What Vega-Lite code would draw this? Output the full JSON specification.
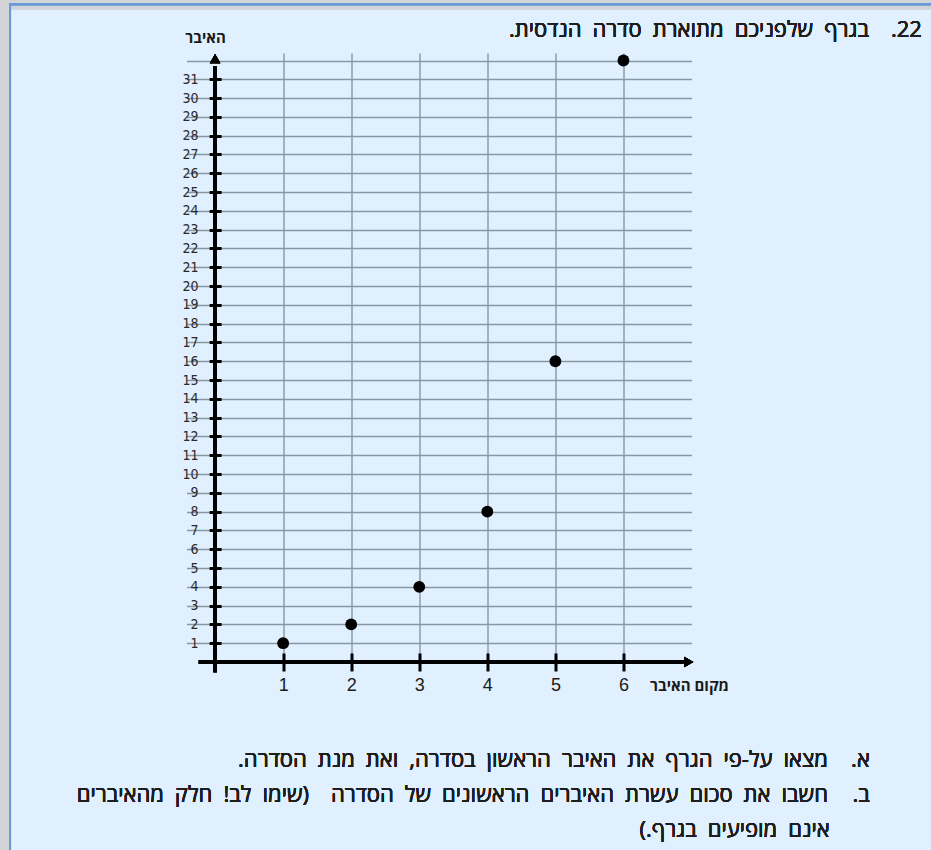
{
  "$schema": "https://vega.github.io/schema/vega-lite/v6.json",
  "width": 505,
  "height": 609,
  "autosize": {"type": "none"},
  "padding": {"left": 186.5, "top": 53, "right": 239.5, "bottom": 188},
  "background": "#e1f0fe",
  "config": {"view": {"stroke": null}},
  "data": {"values": [
    {"n": 1, "a": 1},
    {"n": 2, "a": 2},
    {"n": 3, "a": 4},
    {"n": 4, "a": 8},
    {"n": 5, "a": 16},
    {"n": 6, "a": 32}
  ]},
  "layer": [
    {
      "mark": {"type": "rect", "fill": null, "stroke": "#d2d4d7", "strokeWidth": 18},
      "encoding": {
        "x": {"datum": -3.16, "type": "quantitative"},
        "x2": {"datum": 12},
        "y": {"datum": 35.21, "type": "quantitative"},
        "y2": {"datum": -12}
      }
    },
    {
      "mark": {"type": "rect", "fill": null, "stroke": "#6b9ad6", "strokeWidth": 2},
      "encoding": {
        "x": {"datum": -3.013, "type": "quantitative"},
        "x2": {"datum": 12},
        "y": {"datum": 35.0, "type": "quantitative"},
        "y2": {"datum": -12}
      }
    },
    {
      "mark": {"type": "rule", "color": "black", "strokeWidth": 3.5},
      "encoding": {
        "x": {"datum": 0, "type": "quantitative"},
        "y": {"datum": -0.55, "type": "quantitative"},
        "y2": {"datum": 31.7}
      }
    },
    {
      "mark": {"type": "rule", "color": "black", "strokeWidth": 3.5},
      "encoding": {
        "y": {"datum": 0, "type": "quantitative"},
        "x": {"datum": -0.24, "type": "quantitative"},
        "x2": {"datum": 6.9}
      }
    },
    {
      "mark": {"type": "point", "shape": "triangle-up", "filled": true, "color": "black", "opacity": 1, "size": 110},
      "encoding": {
        "x": {"datum": 0, "type": "quantitative"},
        "y": {"datum": 32.1, "type": "quantitative"}
      }
    },
    {
      "mark": {"type": "point", "shape": "triangle-right", "filled": true, "color": "black", "opacity": 1, "size": 110},
      "encoding": {
        "x": {"datum": 6.96, "type": "quantitative"},
        "y": {"datum": 0, "type": "quantitative"}
      }
    },
    {
      "mark": {"type": "point", "filled": true, "color": "black", "opacity": 1, "size": 140},
      "encoding": {
        "x": {
          "field": "n", "type": "quantitative",
          "scale": {"domain": [-0.42, 7], "nice": false, "zero": false},
          "axis": {
            "values": [1, 2, 3, 4, 5, 6], "tickCount": 50, "format": "d",
            "offset": -9, "tickSize": 18, "tickWidth": 3, "tickColor": "black",
            "domain": false, "grid": true, "gridColor": "#8696a2", "gridWidth": 1.4,
            "labelPadding": 5, "labelFont": "Liberation Sans, DejaVu Sans", "labelFontSize": 18,
            "labelColor": "#1a1a1a", "labelFlush": false,
            "title": "מקום האיבר", "titleX": 502.5, "titleY": 32,
            "titleAlign": "center", "titleBaseline": "middle",
            "titleFont": "Open Sans", "titleFontSize": 15, "titleFontWeight": "bold", "titleColor": "#1a1a1a"
          }
        },
        "y": {
          "field": "a", "type": "quantitative",
          "scale": {"domain": [0, 32.4], "nice": false, "zero": false},
          "axis": {
            "values": [1, 2, 3, 4, 5, 6, 7, 8, 9, 10, 11, 12, 13, 14, 15, 16, 17, 18, 19, 20, 21, 22, 23, 24, 25, 26, 27, 28, 29, 30, 31, 32],
            "tickCount": 100, "format": "d",
            "offset": -34.6, "tickSize": 12, "tickWidth": 3, "tickColor": "black",
            "tickOpacity": {"condition": {"test": "datum.value >= 32", "value": 0}, "value": 1},
            "domain": false, "grid": true, "gridColor": "#8696a2", "gridWidth": 1.4,
            "labelPadding": 11, "labelExpr": "datum.value >= 32 ? '' : datum.label",
            "labelFont": "Liberation Sans Narrow, DejaVu Sans Condensed, sans-serif", "labelFontSize": 14,
            "labelColor": "#2a2a2a", "labelBaseline": "middle", "labelFlush": false, "labelOverlap": false,
            "title": "האיבר", "titleAngle": 0, "titleX": -16, "titleY": -16,
            "titleAlign": "center", "titleBaseline": "middle",
            "titleFont": "Open Sans", "titleFontSize": 15, "titleFontWeight": "bold", "titleColor": "#1a1a1a"
          }
        }
      }
    },
    {
      "mark": {"type": "text", "text": "\u202B22.\u2002\u2002בגרף\u2002שלפניכם\u2002מתוארת\u2002סדרה\u2002הנדסית.\u202C", "align": "right", "baseline": "middle", "font": "Open Sans", "fontSize": 22, "color": "#1e1e1e"},
      "encoding": {
        "x": {"datum": 10.386, "type": "quantitative"},
        "y": {"datum": 33.62, "type": "quantitative"}
      }
    },
    {
      "mark": {"type": "text", "text": "\u202Bא.\u202C", "align": "right", "baseline": "middle", "font": "Open Sans", "fontSize": 22, "color": "#1e1e1e"},
      "encoding": {
        "x": {"datum": 9.62, "type": "quantitative"},
        "y": {"datum": -5.21, "type": "quantitative"}
      }
    },
    {
      "mark": {"type": "text", "text": "\u202Bמצאו\u2002על-פי\u2002הגרף\u2002את\u2002האיבר\u2002הראשון\u2002בסדרה,\u2002ואת\u2002מנת\u2002הסדרה.\u202C", "align": "right", "baseline": "middle", "font": "Open Sans", "fontSize": 22, "color": "#1e1e1e"},
      "encoding": {
        "x": {"datum": 9.005, "type": "quantitative"},
        "y": {"datum": -5.21, "type": "quantitative"}
      }
    },
    {
      "mark": {"type": "text", "text": "\u202Bב.\u202C", "align": "right", "baseline": "middle", "font": "Open Sans", "fontSize": 22, "color": "#1e1e1e"},
      "encoding": {
        "x": {"datum": 9.62, "type": "quantitative"},
        "y": {"datum": -7.07, "type": "quantitative"}
      }
    },
    {
      "mark": {"type": "text", "text": "\u202Bחשבו\u2002את\u2002סכום\u2002עשרת\u2002האיברים\u2002הראשונים\u2002של\u2002הסדרה\u2002\u2002(שימו\u2002לב!\u2002חלק\u2002מהאיברים\u202C", "align": "right", "baseline": "middle", "font": "Open Sans", "fontSize": 22, "color": "#1e1e1e"},
      "encoding": {
        "x": {"datum": 9.005, "type": "quantitative"},
        "y": {"datum": -7.07, "type": "quantitative"}
      }
    },
    {
      "mark": {"type": "text", "text": "\u202Bאינם\u2002מופיעים\u2002בגרף.)\u202C", "align": "right", "baseline": "middle", "font": "Open Sans", "fontSize": 22, "color": "#1e1e1e"},
      "encoding": {
        "x": {"datum": 9.03, "type": "quantitative"},
        "y": {"datum": -8.94, "type": "quantitative"}
      }
    }
  ]
}
